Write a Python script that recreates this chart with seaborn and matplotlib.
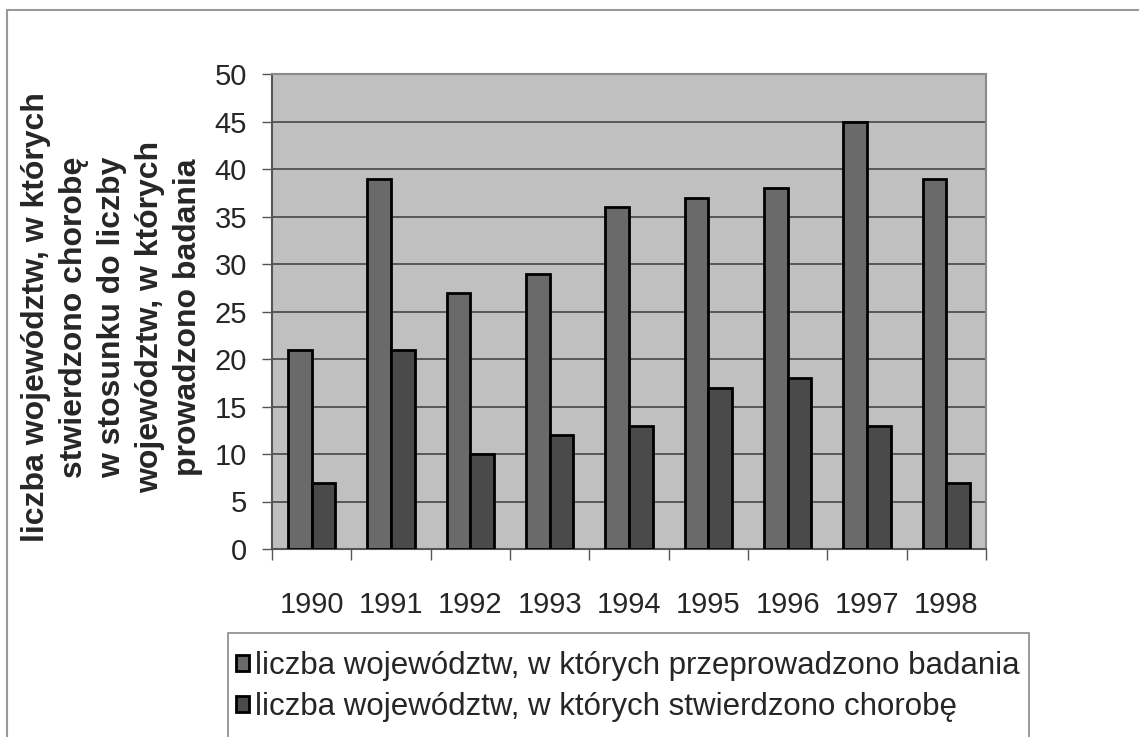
import matplotlib
matplotlib.use("Agg")
import matplotlib.pyplot as plt
import matplotlib.patches as mpatches
import numpy as np
import pandas as pd
import seaborn as sns

# Data
years = ["1990", "1991", "1992", "1993", "1994", "1995", "1996", "1997", "1998"]
badania = [21, 39, 27, 29, 36, 37, 38, 45, 39]
choroba = [7, 21, 10, 12, 13, 17, 18, 13, 7]

label_badania = "liczba województw, w których przeprowadzono badania"
label_choroba = "liczba województw, w których stwierdzono chorobę"
y_label = ("liczba województw, w których\nstwierdzono chorobę\nw stosunku do liczby\n"
           "województw, w których\nprowadzono badania")

sns.set_style("white")
plt.rcParams['font.family'] = ['Liberation Sans', 'DejaVu Sans']

df = pd.DataFrame({"rok": years, label_badania: badania, label_choroba: choroba})
df_melted = df.melt(id_vars="rok", var_name="seria", value_name="liczba")

W, H = 1139, 737
fig = plt.figure(figsize=(W / 100, H / 100), dpi=100)

# Outer frame of the chart
fig.patches.append(mpatches.Rectangle((7 / W, -0.05), 1.2, 1 - 10 / H + 0.05,
                                      transform=fig.transFigure, fill=False,
                                      edgecolor="#9a9a9a", lw=1.5))
# Legend frame
fig.patches.append(mpatches.Rectangle((228 / W, -0.05), (1029 - 228) / W, 1 - 633 / H + 0.05,
                                      transform=fig.transFigure, fill=False,
                                      edgecolor="#8a8a8a", lw=1.2))

ax = fig.add_axes([272 / W, 1 - 549 / H, (986 - 272) / W, (549 - 74) / H])
ax.set_facecolor("#c0c0c0")

palette = {label_badania: "#6a6a6a", label_choroba: "#4a4a4a"}
sns.barplot(data=df_melted, x="rok", y="liczba", hue="seria", palette=palette,
            width=0.6, edgecolor="black", linewidth=2, saturation=1, ax=ax, zorder=3)

ax.set_ylim(0, 50)
ax.set_xlim(-0.5, 8.5)
ax.set_yticks(np.arange(0, 51, 5))
ax.yaxis.grid(True, color="#3c3c3c", lw=1.1, zorder=1)
ax.set_axisbelow(True)

ax.set_xlabel("")
ax.set_ylabel("")
ax.tick_params(axis="y", labelsize=21, length=7, width=1, color="#555555", pad=11, left=True)
ax.tick_params(axis="x", which="major", labelsize=21, length=0, pad=30)
ax.set_xticks(np.arange(-0.5, 9, 1), minor=True)
ax.tick_params(axis="x", which="minor", length=8, width=1, color="#555555", bottom=True)

for side in ["top", "right"]:
    ax.spines[side].set_color("#8a8a8a")
    ax.spines[side].set_linewidth(1.5)
for side in ["left", "bottom"]:
    ax.spines[side].set_color("#555555")
    ax.spines[side].set_linewidth(1.5)

fig.text(112 / W, 1 - 317 / H, y_label, rotation=90, ha="center", va="center",
         multialignment="center", fontsize=23, fontweight="bold", linespacing=1.35)

handles, labels = ax.get_legend_handles_labels()
ax.get_legend().remove()
leg = fig.legend(handles, labels, loc="upper left", bbox_to_anchor=(236 / W, 1 - 651 / H),
                 fontsize=22.5, frameon=False, handlelength=0.4,
                 handleheight=0.4, handletextpad=0.2, labelspacing=0.35,
                 borderpad=0, borderaxespad=0)

plt.savefig("out.png", dpi=100)
